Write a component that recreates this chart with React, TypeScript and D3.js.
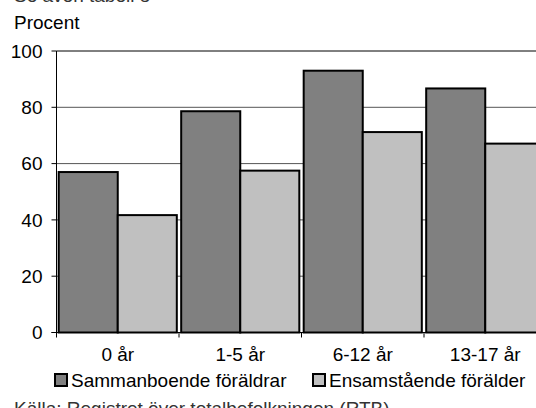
import React from "react";
import * as d3 from "d3";

const categories = ["0 år", "1-5 år", "6-12 år", "13-17 år"];
const seriesNames = ["Sammanboende föräldrar", "Ensamstående förälder"];
const sammanboende = [57, 78.6, 93, 86.7];
const ensamstaende = [41.7, 57.5, 71.2, 67.1];
const yTicks = [0, 20, 40, 60, 80, 100];

const colors = ["#808080", "#c0c0c0"];

export default function App() {
  const W = 536, H = 408;
  const x0 = 56.5, catW = 122.5;
  const x = d3.scaleBand().domain(categories).range([x0, x0 + catW * categories.length]).paddingInner(0).paddingOuter(0);
  const inner = d3.scaleBand().domain(["0", "1"]).range([0, catW]).paddingOuter(0.037).paddingInner(0);
  const y = d3.scaleLinear().domain([0, 100]).range([332.5, 51]);
  const series = [sammanboende, ensamstaende];
  const font = "'Liberation Sans', Arial, sans-serif";
  const fs = 19;
  return (
    <svg width={W} height={H} style={{ position: "absolute", left: 0, top: 0 }} fontFamily={font}>
      <text x={14} y={2} fontSize={fs} fill="#333">Se även tabell 8</text>
      <text x={14} y={29} fontSize={fs} fill="#000">Procent</text>
      {yTicks.map((t) => (
        <g key={t}>
          {t > 0 && <line x1={x0} x2={W} y1={y(t)} y2={y(t)} stroke={t === 100 ? "#000" : "#555"} strokeWidth={1} />}
          <line x1={x0 - 5} x2={x0} y1={y(t)} y2={y(t)} stroke="#000" />
          <text x={x0 - 14} y={y(t)} dy="0.35em" textAnchor="end" fontSize={fs}>{t}</text>
        </g>
      ))}
      {categories.map((c, i) => (
        <g key={c}>
          {series.map((s, j) => {
            const bx = (x(c) as number) + (inner(String(j)) as number);
            return (
              <rect key={j} x={bx} y={y(s[i])} width={inner.bandwidth()} height={y(0) - y(s[i])}
                fill={colors[j]} stroke="#000" strokeWidth={2} />
            );
          })}
          <text x={(x(c) as number) + catW / 2} y={361} textAnchor="middle" fontSize={fs}>{c}</text>
        </g>
      ))}
      <line x1={x0} x2={x0} y1={y(100)} y2={y(0)} stroke="#000" />
      <line x1={x0 - 5} x2={W} y1={y(0)} y2={y(0)} stroke="#000" />
      {categories.map((c, i) => (
        <line key={i} x1={(x(c) as number)} x2={(x(c) as number)} y1={y(0)} y2={y(0) + 5} stroke="#000" />
      ))}
      <line x1={x0 + catW * 4} x2={x0 + catW * 4} y1={y(0)} y2={y(0) + 5} stroke="#000" />
      {seriesNames.map((n, j) => {
        const lx = j === 0 ? 55 : 313;
        return (
          <g key={n}>
            <rect x={lx} y={374} width={12} height={12} fill={colors[j]} stroke="#000" strokeWidth={2} />
            <text x={lx + 16} y={387} fontSize={fs}>{n}</text>
          </g>
        );
      })}
      <text x={14} y={415} fontSize={fs} fill="#333">Källa: Registret över totalbefolkningen (RTB)</text>
    </svg>
  );
}
